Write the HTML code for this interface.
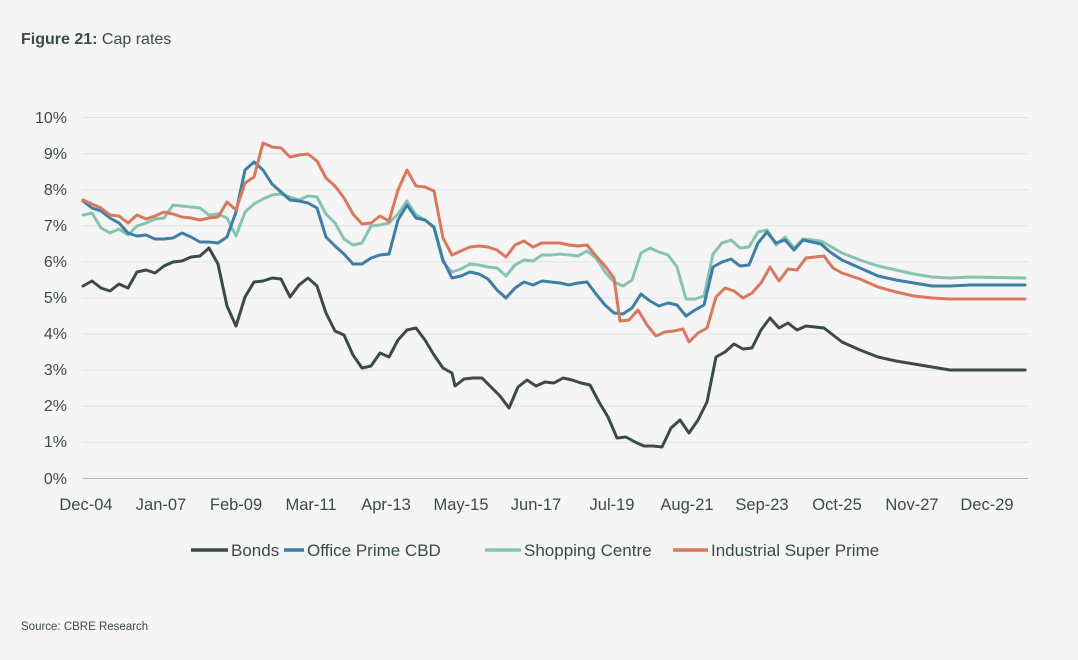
<!DOCTYPE html>
<html><head><meta charset="utf-8"><style>
body{margin:0;background:#f5f5f5;font-family:"Liberation Sans",sans-serif}
</style></head><body>
<svg width="1078" height="660" xmlns="http://www.w3.org/2000/svg" style="display:block;background:#f5f5f5">
<text x="21" y="44" font-size="16" fill="#3c4a4a"><tspan font-weight="bold">Figure 21:</tspan> Cap rates</text>
<g stroke="#e2e2e2" stroke-width="1">
<line x1="82" x2="1028" y1="117.5" y2="117.5"/><line x1="82" x2="1028" y1="153.6" y2="153.6"/>
<line x1="82" x2="1028" y1="189.7" y2="189.7"/><line x1="82" x2="1028" y1="225.8" y2="225.8"/>
<line x1="82" x2="1028" y1="261.9" y2="261.9"/><line x1="82" x2="1028" y1="298" y2="298"/>
<line x1="82" x2="1028" y1="334.1" y2="334.1"/><line x1="82" x2="1028" y1="370.2" y2="370.2"/>
<line x1="82" x2="1028" y1="406.3" y2="406.3"/><line x1="82" x2="1028" y1="442.4" y2="442.4"/>
</g>
<line x1="82" x2="1028" y1="478.5" y2="478.5" stroke="#bbb"/>
<g font-size="16" fill="#3c4a4a" text-anchor="end">
<text x="67" y="123">10%</text><text x="67" y="159">9%</text><text x="67" y="195">8%</text>
<text x="67" y="231">7%</text><text x="67" y="267">6%</text><text x="67" y="303">5%</text>
<text x="67" y="339">4%</text><text x="67" y="375">3%</text><text x="67" y="411">2%</text>
<text x="67" y="447">1%</text><text x="67" y="484">0%</text>
</g>
<g font-size="16.5" fill="#3c4a4a" text-anchor="middle">
<text x="86" y="510">Dec-04</text><text x="161" y="510">Jan-07</text><text x="236" y="510">Feb-09</text>
<text x="311" y="510">Mar-11</text><text x="386" y="510">Apr-13</text><text x="461" y="510">May-15</text>
<text x="536" y="510">Jun-17</text><text x="612" y="510">Jul-19</text><text x="687" y="510">Aug-21</text>
<text x="762" y="510">Sep-23</text><text x="837" y="510">Oct-25</text><text x="912" y="510">Nov-27</text>
<text x="987" y="510">Dec-29</text>
</g>
<g fill="none" stroke-width="3" stroke-linejoin="round" stroke-linecap="round">
<polyline stroke="#86c3b0" points="83,215 92,213 101,228 110,233 119,229 128,235 137,226 146,223 155,219 164,218 173,205 182,206 191,207 200,208 209,215 218,214 227,218 236,236 245,212 254,204 263,199 272,195 281,194 290,197 299,200 308,196 317,197 326,214 335,223 344,239 353,245 362,243 371,226 380,225 389,223 398,214 407,201 416,215 425,220 434,228 443,262 452,272 461,269 470,264 479,265 488,267 497,268 506,276 515,265 524,260 533,261 542,255 551,255 560,254 569,255 578,256 587,251 596,258 605,272 614,282 623,286 632,280 641,253 650,248 659,252 668,255 677,267 686,299 695,299 704,296 713,254 722,243 731,240 740,248 749,247 758,232 767,230 776,245 785,237 794,248 803,239 812,240 821,241 830,246 842,253 860,260 878,266 896,270 914,274 932,277 950,278 970,277 1025,278"/>
<polyline stroke="#3e7fa6" points="83,201 92,208 101,211 110,218 119,223 128,233 137,236 146,235 155,239 164,239 173,238 182,233 191,237 200,242 209,242 218,243 227,237 236,212 245,170 254,162 263,170 272,184 281,192 290,200 299,201 308,203 317,208 326,237 335,246 344,254 353,264 362,264 371,258 380,255 389,254 398,220 407,205 416,218 425,220 434,227 443,260 452,278 461,276 470,272 479,274 488,279 497,290 506,298 515,288 524,282 533,285 542,281 551,282 560,283 569,285 578,283 587,282 596,294 605,305 614,313 623,314 632,308 641,294 650,301 659,306 668,303 677,305 686,316 695,310 704,305 713,267 722,262 731,259 740,266 749,265 758,243 767,232 776,243 785,240 794,250 803,240 812,242 821,244 830,252 842,260 860,268 878,276 896,280 914,283 932,286 950,286 970,285 1025,285"/>
<polyline stroke="#d9785d" points="83,200 92,204 101,208 110,215 119,216 128,223 137,215 146,219 155,216 164,212 173,214 182,217 191,218 200,220 209,218 218,217 227,202 236,210 245,183 254,177 263,143 272,147 281,148 290,157 299,155 308,154 317,161 326,178 335,186 344,198 353,214 362,224 371,223 380,216 389,221 398,190 407,170 416,186 425,187 434,191 443,238 452,255 461,251 470,247 479,246 488,247 497,250 506,257 515,245 524,241 533,247 542,243 551,243 560,243 569,245 578,246 587,245 596,256 605,266 614,278 620,321 629,320 638,310 647,325 656,336 665,332 674,331 683,329 689,342 698,333 707,328 716,297 725,288 734,291 743,298 752,293 761,283 770,267 779,281 788,269 797,270 806,258 815,257 824,256 833,268 842,273 860,279 878,287 896,292 914,296 932,298 950,299 970,299 1025,299"/>
<polyline stroke="#3c4a4a" points="83,286 92,281 101,288 110,291 119,284 128,288 137,272 146,270 155,273 164,266 173,262 182,261 191,257 200,256 209,248 218,264 227,306 236,326 245,297 254,282 263,281 272,278 281,279 290,297 299,285 308,278 317,286 326,313 335,331 344,335 353,355 362,368 371,366 380,353 389,357 398,340 407,330 416,328 425,340 434,355 443,368 452,373 455,386 464,379 473,378 482,378 491,387 500,396 509,408 518,387 527,380 536,386 545,382 554,383 563,378 572,380 581,383 590,385 599,402 608,417 617,438 626,437 635,442 644,446 653,446 662,447 671,428 680,420 689,433 698,420 707,402 716,357 725,352 734,344 743,349 752,348 761,330 770,318 779,328 788,323 797,330 806,326 815,327 824,328 833,335 842,342 860,350 878,357 896,361 914,364 932,367 950,370 1025,370"/>
</g>
<g stroke-width="3.5">
<line x1="191" x2="228" y1="550" y2="550" stroke="#3c4a4a"/>
<line x1="284" x2="304" y1="550" y2="550" stroke="#3e7fa6"/>
<line x1="485" x2="521" y1="550" y2="550" stroke="#86c3b0"/>
<line x1="673" x2="708" y1="550" y2="550" stroke="#d9785d"/>
</g>
<g font-size="17" fill="#3c4a4a">
<text x="231" y="556">Bonds</text><text x="307" y="556">Office Prime CBD</text>
<text x="524" y="556">Shopping Centre</text><text x="711" y="556">Industrial Super Prime</text>
</g>
<text x="21" y="630" font-size="11.5" fill="#3c4a4a">Source: CBRE Research</text>
</svg>
</body></html>
